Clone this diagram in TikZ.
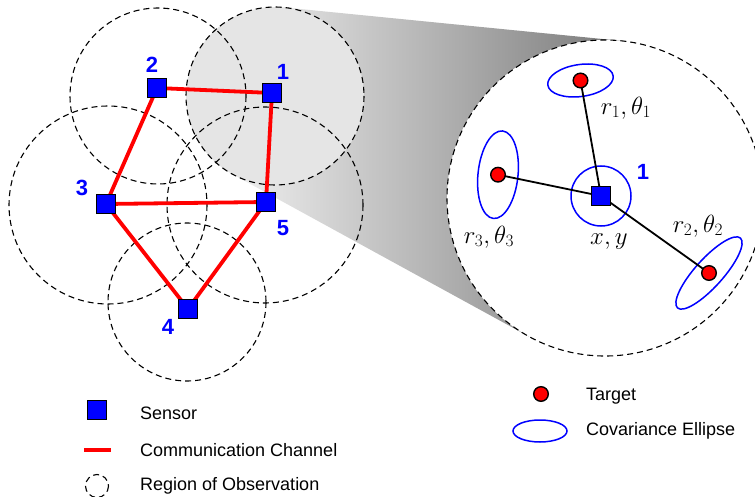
\documentclass[tikz,border=0pt]{standalone}
\usepackage[no-math]{fontspec}
\newfontfamily\arialfont{Liberation Sans}
\definecolor{sblue}{RGB}{0,0,255}
\definecolor{sred}{RGB}{255,0,0}
\pgfdeclarelayer{front}
\pgfsetlayers{main,front}
\tikzset{
  sensor/.style={rectangle, draw=black, line width=1.4pt, fill=sblue, minimum size=18.8pt, inner sep=0pt},
  target/.style={circle, draw=black, line width=1.4pt, fill=sred, minimum size=14.6pt, inner sep=0pt},
  region/.style={draw=black, dash pattern=on 6pt off 4pt, line width=1.1pt},
  channel/.style={draw=sred, line width=3.8pt},
  covell/.style={draw=sblue, line width=1.5pt},
  meas/.style={draw=black, line width=1.8pt},
  sid/.style={text=sblue, font=\arialfont\bfseries\fontsize{22}{24}\selectfont, inner sep=0pt},
  legtext/.style={font=\arialfont\fontsize{18}{21}\selectfont, anchor=base west, inner sep=0pt},
  mathlab/.style={font=\fontsize{25.5}{29}\selectfont, inner sep=0pt},
}
\begin{document}
\begin{tikzpicture}[x=1pt,y=-1pt]
\useasboundingbox (0,0) rectangle (755,497);
% region centres
\coordinate (R1) at (275,96);
\coordinate (R2) at (158,96);
\coordinate (R3) at (108,205);
\coordinate (R4) at (187,302);
\coordinate (R5) at (265,205);
\coordinate (Z) at (605,198);
% tangent points of the zoom funnel
\coordinate (T1a) at (283.8,7.4);
\coordinate (T2a) at (620.6,40.8);
\coordinate (T1b) at (232.3,174.1);
\coordinate (T2b) at (529.1,336.6);
% funnel and fills
\shade[left color=black!6, right color=black!52] (T1a) -- (T2a) -- (T2b) -- (T1b) -- cycle;
\fill[black!10] (R1) circle[radius=89];
\fill[white] (Z) circle[radius=158];
% regions of observation
\draw[region] (R2) circle[radius=88];
\draw[region] (R1) circle[radius=89];
\draw[region] (R3) circle[radius=99];
\draw[region] (R5) circle[radius=98];
\draw[region] (R4) circle[radius=79];
\draw[region] (Z) circle[radius=158];
% nodes on the front layer
\begin{pgfonlayer}{front}
\node[sensor] (s1) at (272,93) {};
\node[sensor] (s2) at (157,88) {};
\node[sensor] (s3) at (106,204) {};
\node[sensor] (s4) at (188,309) {};
\node[sensor] (s5) at (266,202) {};
\node[sensor] (z1) at (601,196) {};
\node[target] (tg1) at (580.5,80.5) {};
\node[target] (tg2) at (709,273) {};
\node[target] (tg3) at (498,174.7) {};
\node[sensor] (ls) at (97,410) {};
\node[target] (lt) at (541,394) {};
\end{pgfonlayer}
% communication channels
\draw[channel] (s2.center) -- (s1.center);
\draw[channel] (s1.center) -- (s5.center);
\draw[channel] (s2.center) -- (s3.center);
\draw[channel] (s3.center) -- (s5.center);
\draw[channel] (s3.center) -- (s4.center);
\draw[channel] (s5.center) -- (s4.center);
% sensor labels
\node[sid] (l1) at (283,72) {1};
\node[sid] (l2) at (152,65) {2};
\node[sid] (l3) at (82,188) {3};
\node[sid] (l4) at (168,327) {4};
\node[sid] (l5) at (283,228) {5};
% zoom content
\draw[covell] (z1.center) circle[radius=30];
\draw[covell, rotate around={8:(tg1.center)}] (tg1.center) ellipse[x radius=33, y radius=16];
\draw[covell, rotate around={-6:(tg3.center)}] (tg3.center) ellipse[x radius=20, y radius=44];
\draw[covell, rotate around={48:(tg2.center)}] (tg2.center) ellipse[x radius=47, y radius=14];
\draw[meas] (z1.center) -- (tg1.center);
\draw[meas] (z1.center) -- (tg2.center);
\draw[meas] (z1.center) -- (tg3.center);
\node[sid] (lz) at (643,172) {1};
\node[mathlab] (m1) at (626,108) {$r_1,\theta_1$};
\node[mathlab] (m2) at (698,226) {$r_2,\theta_2$};
\node[mathlab] (m3) at (489,237) {$r_3,\theta_3$};
\node[mathlab] (mxy) at (609,242) {$x,y$};
% legend
\coordinate (lc1) at (84,450);
\coordinate (lc2) at (111,450);
\draw[channel] (lc1) -- (lc2);
\coordinate (lr) at (97,486);
\draw[region] (lr) circle[radius=11.5];
\coordinate (le) at (540,431);
\draw[covell] (le) ellipse[x radius=27, y radius=11];
\node[legtext] (t1) at (140,419) {Sensor};
\node[legtext] (t2) at (140,456) {Communication Channel};
\node[legtext] (t3) at (140,490) {Region of Observation};
\node[legtext] (t4) at (586,400) {Target};
\node[legtext] (t5) at (586,435.5) {Covariance Ellipse};
\end{tikzpicture}
\end{document}
